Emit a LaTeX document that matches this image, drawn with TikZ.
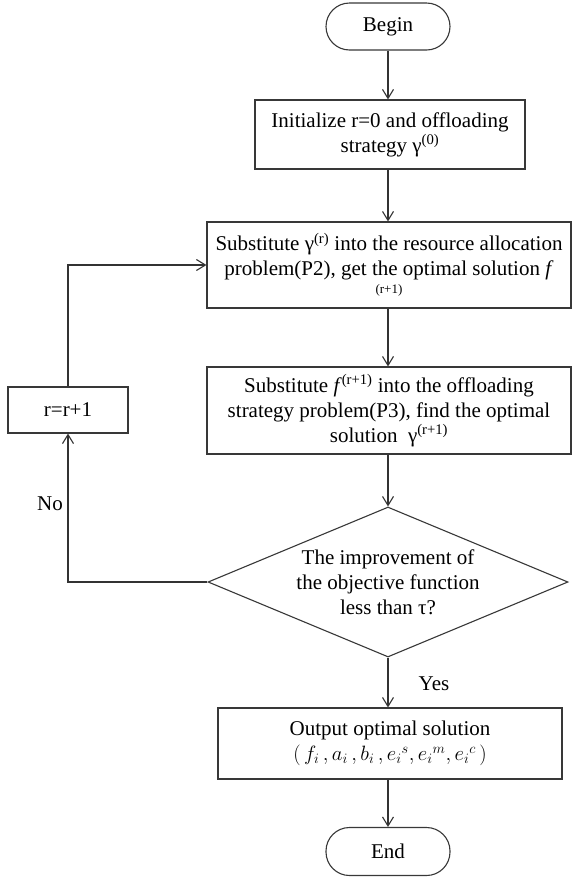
\documentclass[tikz,border=0pt]{standalone}
\usepackage{fontspec}
\setmainfont{Liberation Serif}
\usetikzlibrary{arrows.meta,shapes.geometric}
\begin{document}
\begin{tikzpicture}[x=1pt,y=1pt,
  every node/.style={font=\fontsize{21}{25}\selectfont, text=black},
  proc/.style={draw=black!78, line width=1.1pt, rectangle, inner sep=0pt, align=center},
  term/.style={draw=black!78, line width=1.1pt, rectangle, rounded corners=23.5pt, inner sep=0pt},
  arr/.style={draw=black!80, line width=1.1pt, -{Straight Barb[length=9pt,width=11pt,line width=1.1pt]}},
  lbl/.style={inner sep=0pt}
]
\useasboundingbox (0,0) rectangle (572,-879);
\fill[white] (0,0) rectangle (572,-879);

\node[term, minimum width=124pt, minimum height=47pt] (begin) at (388,-26.5) {Begin};
\node[proc, minimum width=270pt, minimum height=69pt] (init) at (390,-134.5)
  {Initialize r=0 and offloading\\strategy γ\textsuperscript{(0)}};
\node[proc, minimum width=364pt, minimum height=86pt] (box1) at (389,-265)
  {Substitute γ\textsuperscript{(r)} into the resource allocation\\problem(P2), get the optimal solution \textit{f}\\[-7pt]{\fontsize{13}{13}\selectfont (r+1)}};
\node[proc, minimum width=364pt, minimum height=87pt] (box2) at (389,-410.5)
  {Substitute \textit{f}\textsuperscript{(r+1)} into the offloading\\strategy problem(P3), find the optimal\\solution\ \ γ\textsuperscript{(r+1)}};
\node[draw=black!78, line width=1.1pt, diamond, minimum width=360pt, minimum height=150pt, inner sep=0pt] (dia) at (388,-582) {};
\node[lbl, align=center] (diatext) at (dia.center) {The improvement of\\the objective function\\less than τ?};
\node[proc, minimum width=344pt, minimum height=71pt] (out) at (390,-743.5)
  {Output optimal solution\\$(\,f_i\,,a_i\,,b_i\,,e_i{}^{s},e_i{}^{m},e_i{}^{c}\,)$};
\node[term, minimum width=124pt, minimum height=48pt] (end) at (388,-851.5) {End};
\node[proc, minimum width=120pt, minimum height=46pt] (rbox) at (68,-410) {r=r+1};

\node[lbl] (no) at (50,-504) {No};
\node[lbl] (yes) at (434,-684) {Yes};

\draw[arr] (begin.south) -- (init.north -| begin.south);
\draw[arr] (init.south -| begin.south) -- (box1.north -| begin.south);
\draw[arr] (box1.south -| begin.south) -- (box2.north -| begin.south);
\draw[arr] (box2.south -| dia.north) -- (dia.north);
\draw[arr] (dia.south) -- (out.north -| dia.south);
\draw[arr] (out.south -| end.north) -- (end.north);
\draw[arr] (dia.west) -| (rbox.south);
\draw[arr] (rbox.north) |- (box1.west);
\end{tikzpicture}
\end{document}
